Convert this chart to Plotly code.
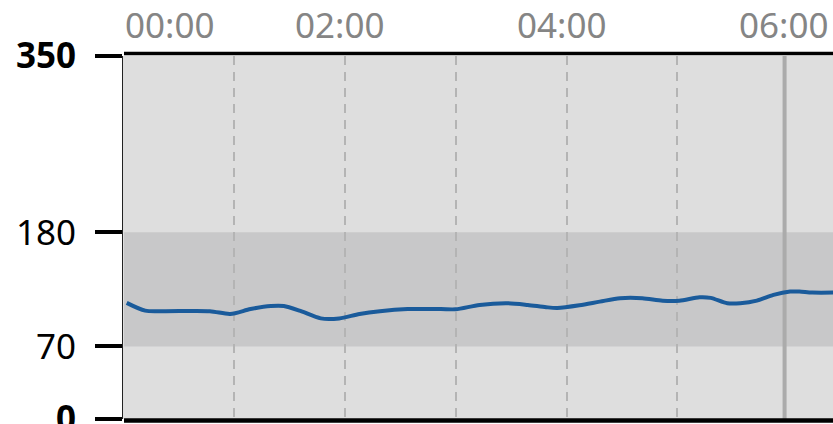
import plotly.graph_objects as go

# ---- data ----
minutes = [2, 12, 22, 47, 58, 69, 80, 87, 96, 107, 117, 128, 139, 154, 172, 180,
           193, 208, 219, 229, 235, 247, 258, 269, 281, 292, 301, 312, 318, 327,
           334, 343, 352, 361, 366, 373, 386]
glucose = [112, 104.5, 104, 104, 101.3, 106, 109, 109, 104.2, 97, 97, 101.3, 104,
           106, 106, 105.8, 110, 111.6, 110, 107.8, 107.1, 109.7, 113.2, 116.5,
           116.5, 114.1, 114.1, 117.4, 116.8, 111.6, 111.6, 114.1, 119.7, 122.9,
           122.9, 121.9, 121.9]
x_tick_minutes = [0, 120, 240, 360]
x_tick_labels = ["00:00", "02:00", "04:00", "06:00"]
grid_minutes = [60, 120, 180, 240, 300]
y_tick_vals = [0, 70, 180, 350]
y_tick_text = ["<b>0</b>", "70", "180", "<b>350</b>"]
target_low, target_high = 70, 180
now_minute = 358
x_range = [0, 384.2]
y_range = [0, 350]

FONT = "Noto Sans"

fig = go.Figure()
fig.add_trace(go.Scatter(
    x=minutes, y=glucose, mode="lines",
    line=dict(color="#1a5b9b", width=4, shape="spline", smoothing=0.8),
    hoverinfo="skip", showlegend=False,
))

shapes = [
    dict(type="rect", xref="paper", yref="y", x0=0.0014, x1=1, y0=target_low, y1=target_high,
         fillcolor="#c8c8c9", line=dict(width=0), layer="below"),
    dict(type="line", xref="x", yref="paper", x0=now_minute, x1=now_minute, y0=0, y1=1,
         line=dict(color="#ababab", width=4), layer="below"),
    dict(type="line", xref="paper", yref="paper", x0=0.0014, x1=1, y0=1.0069, y1=1.0069,
         line=dict(color="black", width=3.5)),
    dict(type="line", xref="paper", yref="paper", x0=0.0014, x1=1, y0=-0.0041, y1=-0.0041,
         line=dict(color="black", width=4.5)),
]

annotations = []
for m, lab in zip(x_tick_minutes, x_tick_labels):
    annotations.append(dict(
        x=m, xref="x", y=1.088, yref="paper", text=lab, showarrow=False,
        xanchor="left" if m == 0 else "center", yanchor="middle",
        xshift=0 if m == 0 else -5,
        font=dict(family=FONT, size=35, color="#858585"),
    ))

fig.update_layout(
    width=833, height=424,
    margin=dict(l=123, r=0, t=56, b=5, autoexpand=False),
    paper_bgcolor="white", plot_bgcolor="#dedede",
    shapes=shapes, annotations=annotations,
    xaxis=dict(range=x_range, tickmode="array", tickvals=grid_minutes, showticklabels=False,
               showgrid=True, gridcolor="#b4b4b4", gridwidth=2, griddash="9px,7px",
               zeroline=False, showline=False, ticks="", fixedrange=True, automargin=False),
    yaxis=dict(range=y_range, tickmode="array", tickvals=y_tick_vals, ticktext=y_tick_text,
               ticks="outside", ticklen=27, tickwidth=3.5, tickcolor="black",
               showgrid=False, zeroline=False, showline=True, linecolor="#222", linewidth=1,
               ticklabelstandoff=12, ticklabeloverflow="allow", automargin=False,
               tickfont=dict(family=FONT, size=35, color="black"), fixedrange=True),
)

fig.write_html("out.html", config={"displayModeBar": False},
               post_script="document.body.style.margin='0';document.body.style.padding='0';")
